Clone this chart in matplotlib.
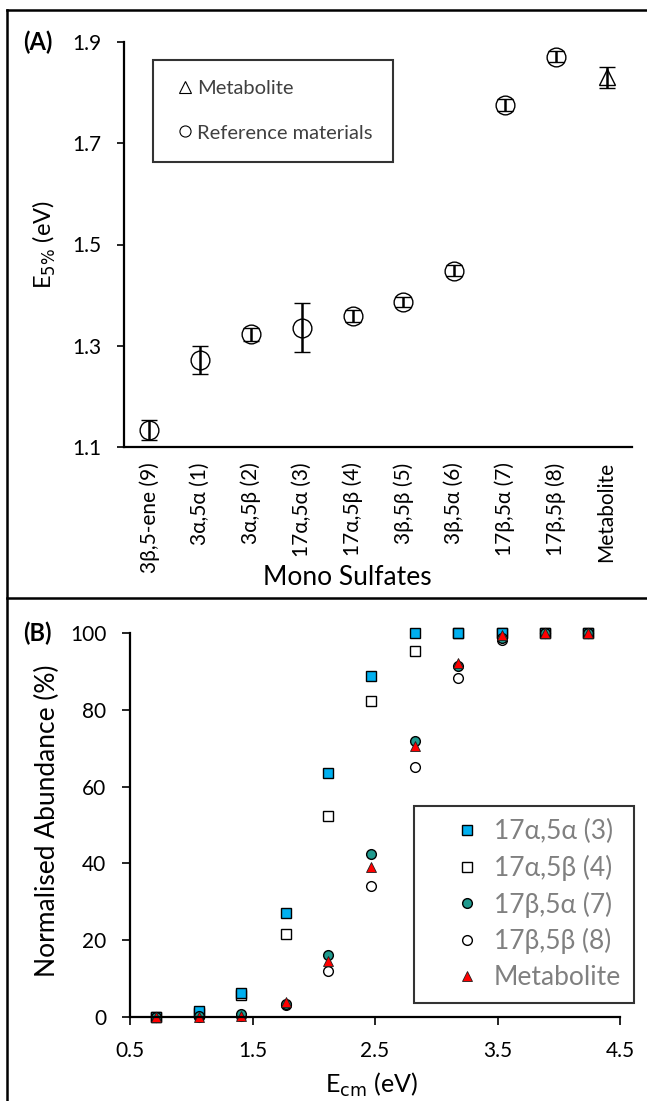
import numpy as np
import matplotlib
matplotlib.use('Agg')
import matplotlib.pyplot as plt
from matplotlib.lines import Line2D

plt.rcParams['font.family'] = ['Lato', 'DejaVu Sans']

# panel A data
sulfates = ["3β,5-ene (9)", "3α,5α (1)", "3α,5β (2)", "17α,5α (3)", "17α,5β (4)",
            "3β,5β (5)", "3β,5α (6)", "17β,5α (7)", "17β,5β (8)", "Metabolite"]
e5 = [1.134, 1.272, 1.323, 1.336, 1.358, 1.386, 1.448, 1.775, 1.871, 1.830]
e5_err = [0.02, 0.028, 0.013, 0.048, 0.012, 0.01, 0.011, 0.012, 0.011, 0.02]

# panel B data
ecm = [0.71, 1.06, 1.41, 1.77, 2.12, 2.47, 2.83, 3.18, 3.54, 3.89, 4.24]
ab_3 = [0, 1.5, 6.2, 27.0, 63.5, 88.8, 100, 100, 100, 100, 100]
ab_4 = [0, 1.0, 5.8, 21.5, 52.3, 82.3, 95.3, 100, 100, 100, 100]
ab_7 = [0, 0.2, 0.8, 3.5, 16.2, 42.4, 72.0, 91.5, 98.8, 100, 100]
ab_8 = [0, 0, 0.3, 3.0, 12.0, 34.2, 65.0, 88.3, 98.3, 100, 100]
ab_met = [0, 0, 0.3, 3.8, 14.5, 39.0, 70.5, 92.3, 99.5, 100, 100]

fig = plt.figure(figsize=(6.47, 11.01), dpi=100)

# frame lines round the panels
fig.add_artist(Line2D([7/647, 7/647], [0, 1 - 10/1101], color='black', lw=1.8))
fig.add_artist(Line2D([7/647, 1], [1 - 10/1101, 1 - 10/1101], color='black', lw=1.8))
fig.add_artist(Line2D([7/647, 1], [1 - 598/1101, 1 - 598/1101], color='black', lw=1.8))

# ---- panel A ----
ax1 = fig.add_axes([124/647, 1 - 447/1101, (632 - 124)/647, (447 - 42)/1101])
xpos = np.arange(1, len(sulfates) + 1)
ax1.errorbar(xpos[:-1], e5[:-1], yerr=e5_err[:-1], fmt='o', ms=13.5, mfc='none', mec='black',
             mew=1.0, ecolor='black', elinewidth=1.8, capsize=6, capthick=1.8)
ax1.errorbar(xpos[-1:], e5[-1:], yerr=e5_err[-1:], fmt='^', ms=11, mfc='none', mec='black',
             mew=1.0, ecolor='black', elinewidth=1.8, capsize=6, capthick=1.8)
ax1.set_xlim(0.5, len(sulfates) + 0.5)
ax1.set_ylim(1.1, 1.9)
ax1.set_yticks([1.1, 1.3, 1.5, 1.7, 1.9])
ax1.set_yticklabels(["1.1", "1.3", "1.5", "1.7", "1.9"], fontsize=15)
ax1.set_xticks(xpos)
ax1.set_xticklabels(sulfates, rotation=90, fontsize=15)
ax1.tick_params(axis='x', length=0, pad=11)
ax1.tick_params(axis='y', length=5, width=1.2, direction='out', pad=11)
for s in ['top', 'right']:
    ax1.spines[s].set_visible(False)
for s in ['left', 'bottom']:
    ax1.spines[s].set_linewidth(1.6)
ax1.set_xlabel("Mono Sulfates", fontsize=19)
ax1.xaxis.set_label_coords(0.439, -0.292)
ax1.set_ylabel("E$_{5\\%}$ (eV)", fontsize=17)
ax1.yaxis.set_label_coords(-0.13, 0.5)

h_met = Line2D([], [], marker='^', ls='none', ms=8, mfc='none', mec='black', mew=0.8)
h_ref = Line2D([], [], marker='o', ls='none', ms=8, mfc='none', mec='black', mew=0.8)
leg1 = ax1.legend([h_met, h_ref], ["Metabolite", "Reference materials"], loc='upper left',
                  bbox_to_anchor=(29/508, 1 - 18/405), frameon=True, fancybox=False,
                  fontsize=14.5, labelspacing=1.35, borderpad=1.0, handletextpad=0.0,
                  handlelength=1.2, borderaxespad=0)
leg1.get_frame().set_edgecolor('black')
leg1.get_frame().set_linewidth(1.5)
for t in leg1.get_texts():
    t.set_color('#404040')

fig.text(23/647, 1 - 42/1101, "(A)", fontsize=17, fontweight='bold', va='center', ha='left')

# ---- panel B ----
ax2 = fig.add_axes([130/647, 1 - 1017/1101, (620 - 130)/647, (1017 - 633)/1101])
ax2.plot(ecm, ab_4, 's', ms=7, mfc='white', mec='black', mew=1.0, label="17α,5β (4)", clip_on=False, zorder=2.0)
ax2.plot(ecm, ab_8, 'o', ms=7, mfc='white', mec='black', mew=1.0, label="17β,5β (8)", clip_on=False, zorder=2.1)
ax2.plot(ecm, ab_3, 's', ms=7, mfc='#00b0f0', mec='black', mew=1.0, label="17α,5α (3)", clip_on=False, zorder=2.2)
ax2.plot(ecm, ab_7, 'o', ms=7, mfc='#1f9a8e', mec='black', mew=1.0, label="17β,5α (7)", clip_on=False, zorder=2.3)
ax2.plot(ecm, ab_met, '^', ms=7, mfc='#ff0000', mec='#202020', mew=0.6, label="Metabolite", clip_on=False, zorder=2.4)
ax2.set_xlim(0.5, 4.5)
ax2.set_ylim(0, 100)
ax2.set_xticks([0.5, 1.5, 2.5, 3.5, 4.5])
ax2.set_xticklabels(["0.5", "1.5", "2.5", "3.5", "4.5"], fontsize=15)
ax2.set_yticks([0, 20, 40, 60, 80, 100])
ax2.set_yticklabels(["0", "20", "40", "60", "80", "100"], fontsize=15)
ax2.tick_params(axis='both', length=6, width=1.2, direction='out', pad=11)
for s in ['top', 'right']:
    ax2.spines[s].set_visible(False)
for s in ['left', 'bottom']:
    ax2.spines[s].set_linewidth(1.6)
ax2.set_xlabel("E$_{\\mathrm{cm}}$ (eV)", fontsize=18)
ax2.xaxis.set_label_coords(0.492, -0.141)
ax2.set_ylabel("Normalised Abundance (%)", fontsize=19)
ax2.yaxis.set_label_coords(-0.143, 0.51)

handles, labels = ax2.get_legend_handles_labels()
order = [2, 0, 3, 1, 4]
leg2 = ax2.legend([handles[i] for i in order], [labels[i] for i in order],
                  loc='lower right', bbox_to_anchor=((634 - 130)/490, 14/384), frameon=True,
                  fancybox=False, fontsize=19, labelspacing=0.4, borderpad=0.5,
                  handletextpad=-0.5, handlelength=3.0, borderaxespad=0)
leg2.get_frame().set_edgecolor('black')
leg2.get_frame().set_linewidth(1.5)
for t in leg2.get_texts():
    t.set_color('#808080')

fig.text(23/647, 1 - 633/1101, "(B)", fontsize=17, fontweight='bold', va='center', ha='left')

plt.savefig("out.png", dpi=100)
